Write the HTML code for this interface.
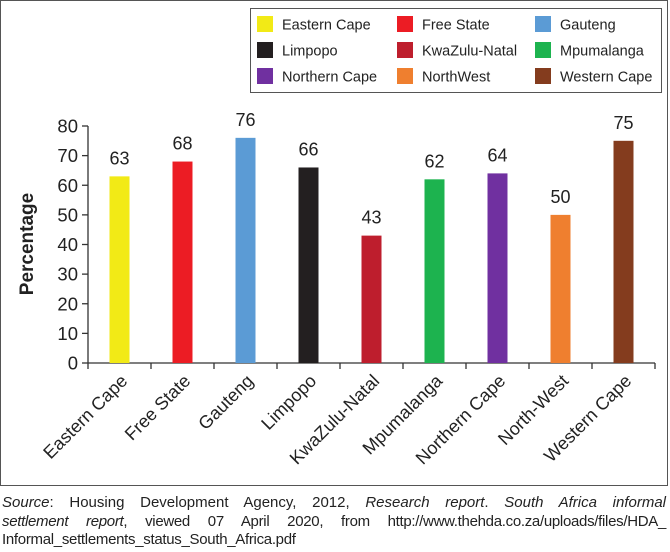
<!DOCTYPE html>
<html><head><meta charset="utf-8"><style>
body{margin:0;background:#fff;font-family:"Liberation Sans",sans-serif}
#wrap{position:relative;width:670px;height:552px}
#src{position:absolute;left:2px;top:494px;width:664px;font-size:15px;line-height:18.5px;color:#222}
#src div{white-space:nowrap}
#src .j{text-align:justify;text-align-last:justify;white-space:normal}
</style></head><body>
<div id="wrap">
<svg id="chart" width="670" height="490" style="position:absolute;left:0;top:0">
<rect x="0.5" y="0.5" width="667" height="485" fill="none" stroke="#555" stroke-width="1"/>
</svg>
<div id="src">
<div class="j"><i>Source</i>: Housing Development Agency, 2012, <i>Research report</i>. <i>South Africa informal</i></div>
<div class="j" style="letter-spacing:-0.3px"><i>settlement report</i>, viewed 07 April 2020, from http://www.thehda.co.za/uploads/files/HDA_</div>
<div style="letter-spacing:-0.3px">Informal_settlements_status_South_Africa.pdf</div>
</div>
</div>
<script>
const categories=["Eastern Cape","Free State","Gauteng","Limpopo","KwaZulu-Natal","Mpumalanga","Northern Cape","North-West","Western Cape"];
const values=[63,68,76,66,43,62,64,50,75];
const colors=["#f2ea16","#ec1c24","#5b9bd5","#231f20","#be1e2d","#1db34f","#7030a0","#ef7f2f","#843c1e"];
const legendLabels=["Eastern Cape","Free State","Gauteng","Limpopo","KwaZulu-Natal","Mpumalanga","Northern Cape","NorthWest","Western Cape"];
const yTicks=[0,10,20,30,40,50,60,70,80];
const NS="http://www.w3.org/2000/svg";
const svg=document.getElementById('chart');
const x0=88,x1=655,y0=363,yTop=126,yMax=80;
const band=(x1-x0)/categories.length;
const xc=i=>x0+band*(i+0.5);
const ys=v=>y0-(v/yMax)*(y0-yTop);
function mk(t,a){const e=document.createElementNS(NS,t);for(const k in a)e.setAttribute(k,a[k]);svg.appendChild(e);return e;}
let ya=mk('line',{x1:x0,y1:ys(80),x2:x0,y2:y0,stroke:'#333','stroke-width':1.3});


yTicks.forEach(v=>{
  let t=mk('line',{x1:x0-6,y1:ys(v),x2:x0,y2:ys(v),stroke:'#333','stroke-width':1.3});
  
  
  let l=mk('text',{x:x0-10,y:ys(v)+6.5,'text-anchor':'end','font-size':18.5,fill:'#222'});
  l.textContent=v;
  
  
});
let yt=mk('text',{x:0,y:0,transform:'translate(33,244) rotate(-90)','text-anchor':'middle','font-size':19,'font-weight':'bold',fill:'#222'});
yt.textContent='Percentage';


let xa=mk('line',{x1:x0,y1:y0,x2:x1,y2:y0,stroke:'#333','stroke-width':1.3});


for(let i=0;i<=categories.length;i++){
  let t=mk('line',{x1:x0+band*i,y1:y0,x2:x0+band*i,y2:y0+6,stroke:'#333','stroke-width':1.3});
  
  
}
categories.forEach((c,i)=>{
  const cx=xc(i);
  let b=mk('rect',{x:cx-10,y:ys(values[i]),width:20,height:y0-ys(values[i]),fill:colors[i]});
  
  
  let v=mk('text',{x:cx,y:ys(values[i])-12,'text-anchor':'middle','font-size':18,fill:'#222'});
  v.textContent=values[i];
  
  
  let l=mk('text',{x:0,y:0,transform:`translate(${cx+9},${y0+19}) rotate(-45)`,'text-anchor':'end','font-size':18,fill:'#222'});
  l.textContent=c;
  
  
});
let lb=mk('rect',{x:250.5,y:8.5,width:411,height:84,fill:'#fff',stroke:'#555','stroke-width':1});


const colX=[257,397,535],rowY=[24,50,76];
legendLabels.forEach((n,i)=>{
  const cx=colX[i%3],cy=rowY[Math.floor(i/3)];
  let s=mk('rect',{x:cx,y:cy-8,width:16,height:16,fill:colors[i]});
  
  
  let t=mk('text',{x:cx+25,y:cy+5.5,'font-size':14.5,fill:'#222'});
  t.textContent=n;
  
  
});
</script>
</body></html>
